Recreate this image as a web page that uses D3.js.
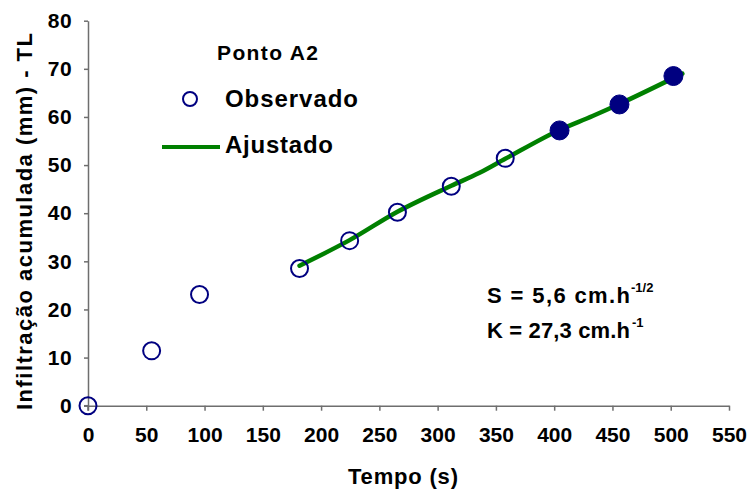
<!DOCTYPE html>
<html>
<head>
<meta charset="utf-8">
<script src="https://cdn.jsdelivr.net/npm/d3@7/dist/d3.min.js"></script>
<style>
  html, body { margin: 0; padding: 0; background: #fff; }
  svg text { font-family: "Liberation Sans", Arial, sans-serif; font-weight: bold; fill: #000; }
</style>
</head>
<body>
<svg id="chart" width="750" height="493"></svg>
<script>
// Observed infiltration (open markers)
const obsTime = [0, 54.6, 95.7, 181.5, 224.5, 265.5, 311.7, 358];
const obsInfil = [0, 11.4, 23.1, 28.5, 34.3, 40.2, 45.6, 51.4];
// Observed infiltration (filled markers)
const obsTimeFilled = [404.6, 456, 502.3];
const obsInfilFilled = [57.2, 62.6, 68.5];
// Fitted curve
const fitTime = [181.5, 224.5, 265.5, 311.7, 336, 358, 404.6, 433, 456, 510];
const fitInfil = [29.1, 34.4, 40.3, 45.7, 48.4, 51.3, 57.3, 60.2, 62.7, 69.0];
// Axis ticks
const xTicks = [0, 50, 100, 150, 200, 250, 300, 350, 400, 450, 500, 550];
const yTicks = [0, 10, 20, 30, 40, 50, 60, 70, 80];

const svg = d3.select("#chart");
const x = d3.scaleLinear().domain([0, 550]).range([88, 729]);
const y = d3.scaleLinear().domain([0, 80]).range([405.7, 20.7]);

const axisColor = "#6e6e6e";
const fontFam = "Liberation Sans, Arial, sans-serif";

// X axis
const gx = svg.append("g").attr("transform", `translate(0,${y(0)})`)
  .call(d3.axisBottom(x).tickValues(xTicks).tickSize(5).tickSizeOuter(0).tickPadding(16));
gx.select(".domain").attr("stroke", axisColor).attr("stroke-width", 1.5);
gx.selectAll(".tick line").attr("stroke", axisColor).attr("stroke-width", 1.5);
gx.selectAll(".tick text").attr("font-size", 21).attr("font-family", fontFam)
  .attr("font-weight", "bold").attr("fill", "#000");

// Y axis
const gy = svg.append("g").attr("transform", `translate(${x(0)},0)`)
  .call(d3.axisLeft(y).tickValues(yTicks).tickSize(4).tickSizeOuter(0).tickPadding(12));
gy.select(".domain").attr("stroke", axisColor).attr("stroke-width", 1.5);
gy.selectAll(".tick line").attr("stroke", axisColor).attr("stroke-width", 1.5);
gy.selectAll(".tick text").attr("font-size", 21).attr("font-family", fontFam)
  .attr("font-weight", "bold").attr("fill", "#000").attr("letter-spacing", 0.4);

// Small tick marks crossing the origin
svg.append("line").attr("x1", x(0) - 4).attr("x2", x(0)).attr("y1", y(0)).attr("y2", y(0))
  .attr("stroke", axisColor).attr("stroke-width", 1.5);
svg.append("line").attr("x1", x(0)).attr("x2", x(0)).attr("y1", y(0)).attr("y2", y(0) + 5)
  .attr("stroke", axisColor).attr("stroke-width", 1.5);

// Axis titles
svg.append("text").attr("x", 348).attr("y", 484)
  .attr("font-size", 22).attr("textLength", 110).attr("lengthAdjust", "spacing").text("Tempo (s)");
svg.append("text").attr("transform", "translate(32,410) rotate(-90)")
  .attr("font-size", 22).attr("textLength", 377).attr("lengthAdjust", "spacing")
  .text("Infiltração acumulada (mm) - TL");

// Fitted line
const fitData = fitTime.map((t, i) => [t, fitInfil[i]]);
svg.append("path").datum(fitData)
  .attr("fill", "none").attr("stroke", "#008000").attr("stroke-width", 4.5)
  .attr("stroke-linecap", "round")
  .attr("d", d3.line().x(d => x(d[0])).y(d => y(d[1])).curve(d3.curveMonotoneX));

// Observed markers
const navy = "#000080";
svg.append("g").selectAll("circle").data(obsTime.map((t, i) => [t, obsInfil[i]])).join("circle")
  .attr("cx", d => x(d[0])).attr("cy", d => y(d[1])).attr("r", 8.5)
  .attr("fill", "none").attr("stroke", navy).attr("stroke-width", 2);
svg.append("g").selectAll("circle").data(obsTimeFilled.map((t, i) => [t, obsInfilFilled[i]])).join("circle")
  .attr("cx", d => x(d[0])).attr("cy", d => y(d[1])).attr("r", 9.5)
  .attr("fill", navy).attr("stroke", navy).attr("stroke-width", 1);

// Legend
svg.append("text").attr("x", 217).attr("y", 60).attr("font-size", 21)
  .attr("textLength", 101).attr("lengthAdjust", "spacing").text("Ponto A2");
svg.append("circle").attr("cx", 190).attr("cy", 99).attr("r", 7)
  .attr("fill", "none").attr("stroke", navy).attr("stroke-width", 2);
svg.append("text").attr("x", 225).attr("y", 107).attr("font-size", 24)
  .attr("textLength", 133).attr("lengthAdjust", "spacing").text("Observado");
svg.append("line").attr("x1", 162).attr("x2", 220).attr("y1", 147).attr("y2", 147)
  .attr("stroke", "#008000").attr("stroke-width", 4);
svg.append("text").attr("x", 225).attr("y", 153).attr("font-size", 24)
  .attr("textLength", 108).attr("lengthAdjust", "spacing").text("Ajustado");

// Fitted parameters
svg.append("text").attr("x", 487).attr("y", 303).attr("font-size", 22)
  .attr("textLength", 143).attr("lengthAdjust", "spacing").text("S = 5,6 cm.h");
svg.append("text").attr("x", 631).attr("y", 292).attr("font-size", 13).text("-1/2");
svg.append("text").attr("x", 487).attr("y", 338).attr("font-size", 22)
  .attr("textLength", 143).attr("lengthAdjust", "spacing").text("K = 27,3 cm.h");
svg.append("text").attr("x", 632).attr("y", 327).attr("font-size", 13).text("-1");
</script>
</body>
</html>
